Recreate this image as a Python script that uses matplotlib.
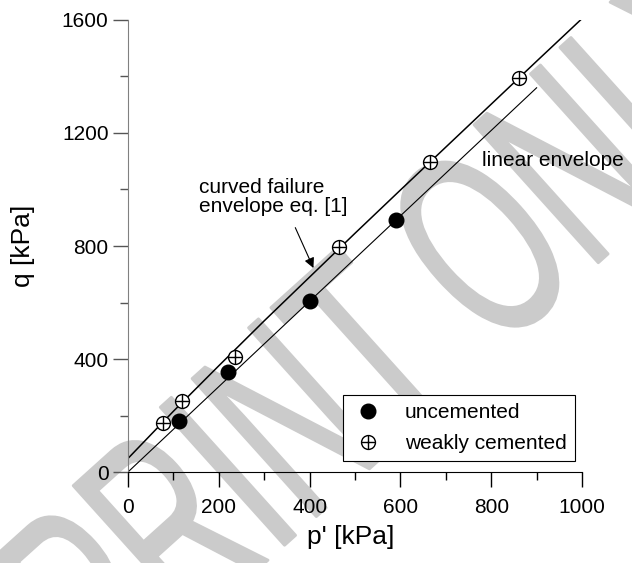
import numpy as np
import matplotlib.pyplot as plt
from matplotlib.legend_handler import HandlerTuple
from matplotlib.textpath import TextPath
from matplotlib.patches import PathPatch
from matplotlib.font_manager import FontProperties
from matplotlib.transforms import Affine2D

plt.rcParams['font.family'] = ['Liberation Sans', 'DejaVu Sans']

# test data
p_unc = [113, 220, 401, 590]
q_unc = [180, 354, 607, 892]
p_wc = [78, 119, 236, 464, 665, 862]
q_wc = [175, 252, 407, 797, 1099, 1394]

# curved failure envelope eq. [1]
p_curve = [0, 100, 200, 300, 400, 500, 600, 700, 800, 900, 1000]
q_curve = [48, 215, 376, 535, 690, 845, 998, 1150, 1302, 1454, 1605]

# linear envelope
p_lin = [0, 900]
q_lin = [0, 1360]

fig = plt.figure(figsize=(6.32, 5.63), dpi=100)
ax = fig.add_axes([0.2025, 0.1616, 0.7184, 0.8029])
ax.set_facecolor('none')

# watermark behind the plot (tall narrow letters, rotated)
prop = FontProperties(family='Liberation Sans')
wm = TextPath((0, 0), 'PREPRINT ONLY', size=1, prop=prop)
x_o = TextPath((0, 0), 'PREPRINT O', size=1, prop=prop).get_extents().x1 - 0.36
tr = Affine2D().scale(1.6, 2.7).rotate_deg(42)
cx, cy = tr.transform([x_o, 0.36])
tr = tr.translate(4.75 - cx, 3.2 - cy) + fig.dpi_scale_trans
fig.add_artist(PathPatch(wm, transform=tr, facecolor='#cbcbcb', edgecolor='#cbcbcb',
                         lw=2, joinstyle='round', zorder=-1))

ax.plot(p_curve, q_curve, color='black', lw=1.1, zorder=2)
ax.plot(p_lin, q_lin, color='black', lw=0.8, zorder=2)

h1, = ax.plot(p_unc, q_unc, 'o', ms=10.5, color='black', zorder=3)
h2a, = ax.plot(p_wc, q_wc, 'o', ms=10, mfc='white', mec='black', mew=1.0, zorder=3)
h2b, = ax.plot(p_wc, q_wc, '+', ms=10, color='black', mew=1.0, zorder=4)

ax.annotate('', xy=(411, 713), xytext=(366, 874),
            arrowprops=dict(arrowstyle='-|>', color='black', lw=0.8, mutation_scale=15))
ax.text(156, 1042, 'curved failure\nenvelope eq. [1]', fontsize=15, ha='left', va='top',
        linespacing=1.05)
ax.text(780, 1104, 'linear envelope', fontsize=15, ha='left', va='center', clip_on=False)

ax.set_xlim(0, 1000)
ax.set_ylim(0, 1600)
ax.set_xticks([0, 200, 400, 600, 800, 1000])
ax.set_xticks([100, 300, 500, 700, 900], minor=True)
ax.set_yticks([0, 400, 800, 1200, 1600])
ax.set_yticks([200, 600, 1000, 1400], minor=True)
for s in ['top', 'right']:
    ax.spines[s].set_visible(False)
ax.spines['left'].set_color('#808080')
ax.spines['bottom'].set_color('black')
ax.tick_params(which='major', length=11, width=1, labelsize=15, direction='out')
ax.tick_params(which='minor', length=6, width=1, direction='out')
ax.tick_params(axis='y', which='both', colors='#555555', labelcolor='black', pad=3)
ax.tick_params(axis='x', which='both', pad=8)

ax.set_xlabel("p' [kPa]", fontsize=19)
ax.set_ylabel('q [kPa]', fontsize=19)
ax.xaxis.set_label_coords(0.491, -0.117)
ax.yaxis.set_label_coords(-0.205, 0.5)

leg = ax.legend([h1, (h2a, h2b)], ['uncemented', 'weakly cemented'],
                handler_map={tuple: HandlerTuple(ndivide=1)},
                loc='lower right', bbox_to_anchor=(0.985, 0.024), fontsize=15,
                fancybox=False, framealpha=1, edgecolor='black', borderpad=0.4,
                handlelength=1.6, handletextpad=1.0, labelspacing=0.55,
                borderaxespad=0)
leg.get_frame().set_linewidth(0.8)

fig.savefig('out.png', dpi=100)
